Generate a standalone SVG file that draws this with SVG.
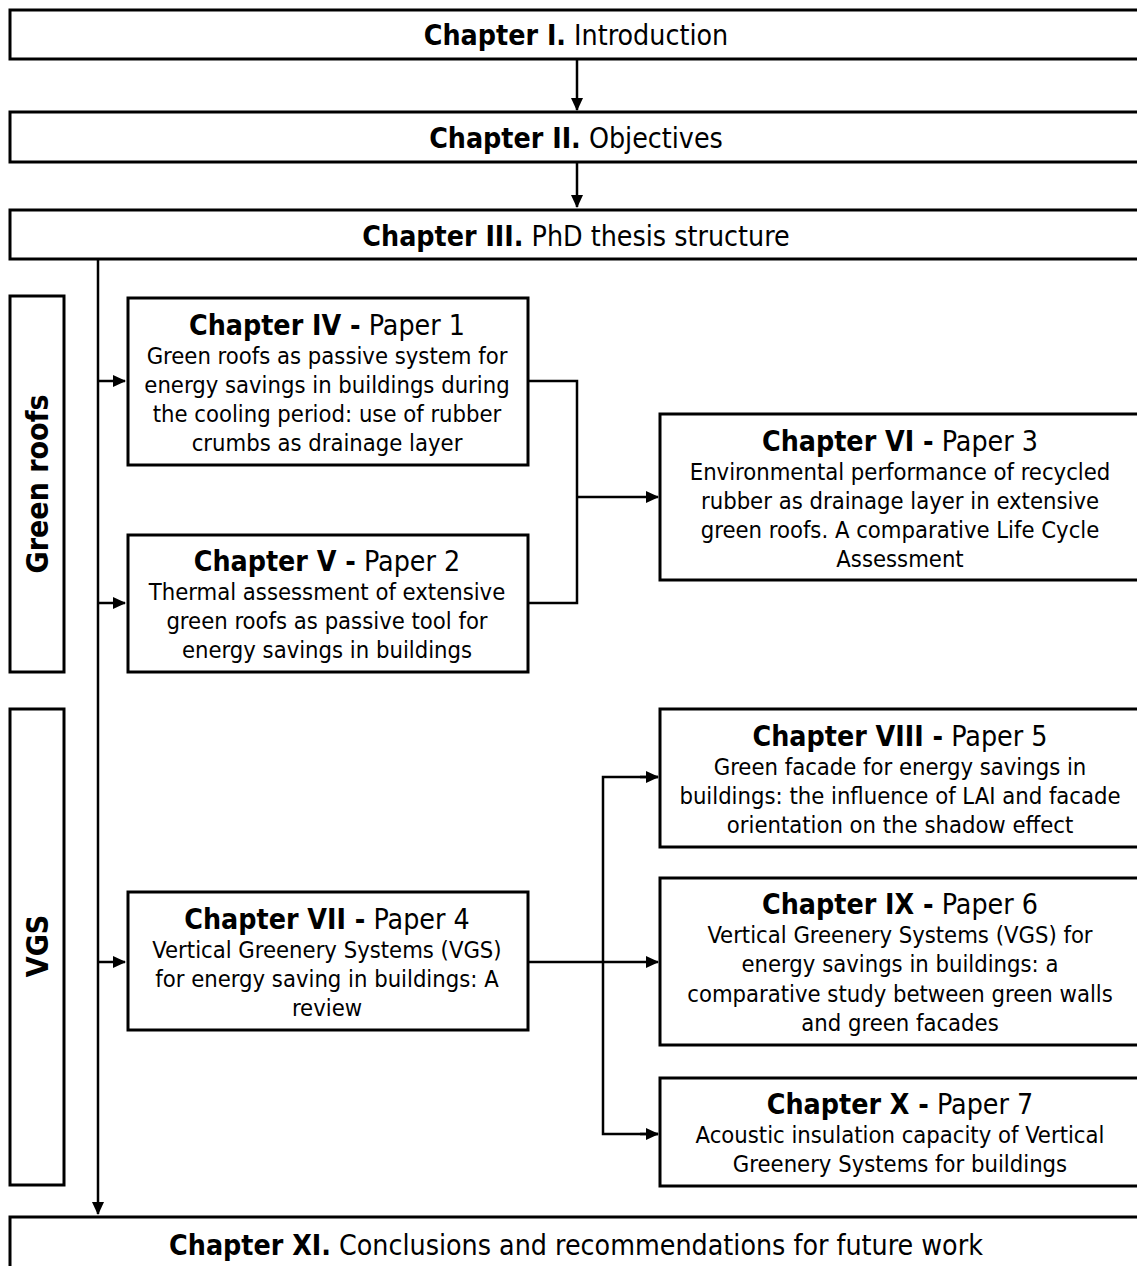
<svg xmlns="http://www.w3.org/2000/svg" width="1137" height="1266" viewBox="0 0 1137 1266">
<style>
.box{fill:#fff;stroke:#000;stroke-width:3}
.ln{fill:none;stroke:#000;stroke-width:2.5}
text{font-family:"DejaVu Sans Condensed","DejaVu Sans",sans-serif;fill:#000;text-anchor:middle}
.h{font-size:28.3px}
.t{font-size:28.3px}
.b{font-size:23.6px}
.bold{font-weight:bold}
.side{font-size:30px;font-weight:bold}
</style>
<defs>
<marker id="arr" markerWidth="14" markerHeight="14" refX="12" refY="7" orient="auto" markerUnits="userSpaceOnUse">
<path d="M0,1 L13,7 L0,13 Z" fill="#000"/>
</marker>
</defs>
<rect width="1137" height="1266" fill="#fff"/>
<g id="connectors">
<line class="ln" x1="577" y1="60" x2="577" y2="110" marker-end="url(#arr)"/>
<line class="ln" x1="577" y1="163" x2="577" y2="207" marker-end="url(#arr)"/>
<line class="ln" x1="98" y1="260" x2="98" y2="1214" marker-end="url(#arr)"/>
<line class="ln" x1="98" y1="381" x2="125" y2="381" marker-end="url(#arr)"/>
<line class="ln" x1="98" y1="603" x2="125" y2="603" marker-end="url(#arr)"/>
<line class="ln" x1="98" y1="962" x2="125" y2="962" marker-end="url(#arr)"/>
<polyline class="ln" points="529,381 577,381 577,603 529,603"/>
<line class="ln" x1="577" y1="497" x2="658" y2="497" marker-end="url(#arr)"/>
<line class="ln" x1="529" y1="962" x2="658" y2="962" marker-end="url(#arr)"/>
<polyline class="ln" points="658,777 603,777 603,1134 658,1134"/>
<line class="ln" x1="640" y1="777" x2="658" y2="777" marker-end="url(#arr)"/>
<line class="ln" x1="640" y1="1134" x2="658" y2="1134" marker-end="url(#arr)"/>
</g>
<g id="ch1"><rect class="box" x="10" y="10" width="1140" height="49"/>
<text class="h" x="576" y="45"><tspan class="bold">Chapter I.</tspan> Introduction</text></g>
<g id="ch2"><rect class="box" x="10" y="112" width="1140" height="50"/>
<text class="h" x="576" y="148"><tspan class="bold">Chapter II.</tspan> Objectives</text></g>
<g id="ch3"><rect class="box" x="10" y="210" width="1140" height="49"/>
<text class="h" x="576" y="246"><tspan class="bold">Chapter III.</tspan> PhD thesis structure</text></g>
<g id="green-roofs"><rect class="box" x="10" y="296" width="54" height="376"/>
<text class="side" transform="translate(48,484) rotate(-90)">Green roofs</text></g>
<g id="vgs"><rect class="box" x="10" y="709" width="54" height="476"/>
<text class="side" transform="translate(48,946) rotate(-90)">VGS</text></g>
<g id="ch4"><rect class="box" x="128" y="298" width="400" height="167"/>
<text class="t" x="327" y="335"><tspan class="bold">Chapter IV -</tspan> Paper 1</text>
<text class="b" x="327" y="364">Green roofs as passive system for</text>
<text class="b" x="327" y="393">energy savings in buildings during</text>
<text class="b" x="327" y="422">the cooling period: use of rubber</text>
<text class="b" x="327" y="451">crumbs as drainage layer</text></g>
<g id="ch5"><rect class="box" x="128" y="535" width="400" height="137"/>
<text class="t" x="327" y="571"><tspan class="bold">Chapter V -</tspan> Paper 2</text>
<text class="b" x="327" y="600">Thermal assessment of extensive</text>
<text class="b" x="327" y="629">green roofs as passive tool for</text>
<text class="b" x="327" y="658">energy savings in buildings</text></g>
<g id="ch6"><rect class="box" x="660" y="414" width="490" height="166"/>
<text class="t" x="900" y="451"><tspan class="bold">Chapter VI -</tspan> Paper 3</text>
<text class="b" x="900" y="480">Environmental performance of recycled</text>
<text class="b" x="900" y="509">rubber as drainage layer in extensive</text>
<text class="b" x="900" y="538">green roofs. A comparative Life Cycle</text>
<text class="b" x="900" y="567">Assessment</text></g>
<g id="ch7"><rect class="box" x="128" y="892" width="400" height="138"/>
<text class="t" x="327" y="929"><tspan class="bold">Chapter VII -</tspan> Paper 4</text>
<text class="b" x="327" y="958">Vertical Greenery Systems (VGS)</text>
<text class="b" x="327" y="987">for energy saving in buildings: A</text>
<text class="b" x="327" y="1016">review</text></g>
<g id="ch8"><rect class="box" x="660" y="709" width="490" height="138"/>
<text class="t" x="900" y="746"><tspan class="bold">Chapter VIII -</tspan> Paper 5</text>
<text class="b" x="900" y="775">Green facade for energy savings in</text>
<text class="b" x="900" y="804">buildings: the influence of LAI and facade</text>
<text class="b" x="900" y="833">orientation on the shadow effect</text></g>
<g id="ch9"><rect class="box" x="660" y="878" width="490" height="167"/>
<text class="t" x="900" y="914"><tspan class="bold">Chapter IX -</tspan> Paper 6</text>
<text class="b" x="900" y="943">Vertical Greenery Systems (VGS) for</text>
<text class="b" x="900" y="972">energy savings in buildings: a</text>
<text class="b" x="900" y="1002">comparative study between green walls</text>
<text class="b" x="900" y="1031">and green facades</text></g>
<g id="ch10"><rect class="box" x="660" y="1078" width="490" height="108"/>
<text class="t" x="900" y="1114"><tspan class="bold">Chapter X -</tspan> Paper 7</text>
<text class="b" x="900" y="1143">Acoustic insulation capacity of Vertical</text>
<text class="b" x="900" y="1172">Greenery Systems for buildings</text></g>
<g id="ch11"><rect class="box" x="10" y="1217" width="1140" height="60"/>
<text class="h" x="576" y="1255"><tspan class="bold">Chapter XI.</tspan> Conclusions and recommendations for future work</text></g>
</svg>
